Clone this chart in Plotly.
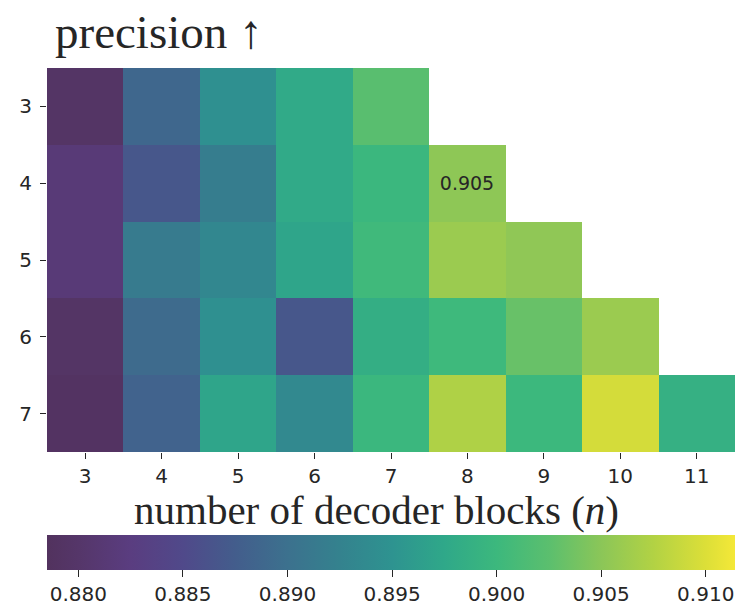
import plotly.graph_objects as go

# Data
blocks = [3, 4, 5, 6, 7, 8, 9, 10, 11]          # x: number of decoder blocks (n)
rows = [3, 4, 5, 6, 7]                            # y
precision = [
    [0.8795, 0.8888, 0.8945, 0.8978, 0.9023, None,   None,   None,   None],
    [0.8815, 0.8868, 0.8918, 0.8978, 0.8998, 0.9052, None,   None,   None],
    [0.8815, 0.8915, 0.8932, 0.8972, 0.9003, 0.9060, 0.9053, None,   None],
    [0.8795, 0.8893, 0.8945, 0.8868, 0.8985, 0.9002, 0.9032, 0.9060, None],
    [0.8790, 0.8882, 0.8972, 0.8935, 0.8998, 0.9073, 0.9000, 0.9095, 0.8988],
]
labels = [["" for _ in blocks] for _ in rows]
labels[1][5] = "0.905"
zmin, zmax = 0.8785, 0.9114
cbar_ticks = [0.880, 0.885, 0.890, 0.895, 0.900, 0.905, 0.910]

cs_vals = [0.8785, 0.880, 0.8825, 0.885, 0.8875, 0.890, 0.8925, 0.895, 0.8975,
           0.900, 0.9025, 0.905, 0.9075, 0.910, 0.9114]
cs_cols = ["#52325e", "#553669", "#5a3d80", "#50498a", "#435d8c", "#3c718e",
           "#34828e", "#2e9390", "#2fa889", "#3cb87d", "#5bbf6e", "#8bc658",
           "#b2d244", "#dcdf38", "#f4e838"]
colorscale = [[(v - zmin) / (zmax - zmin), c] for v, c in zip(cs_vals, cs_cols)]
colorscale[0][0] = 0.0
colorscale[-1][0] = 1.0

W, H = 735, 606
L, R, T, B = 47, 0, 68, 154
ph = H - T - B
pw = W - L - R
tick_font = dict(family="DejaVu Sans", size=20, color="#262626")

fig = go.Figure(go.Heatmap(
    x=blocks, y=rows, z=precision, text=labels, texttemplate="%{text}",
    textfont=dict(family="DejaVu Sans", size=19, color="#262626"),
    colorscale=colorscale, zmin=zmin, zmax=zmax, hoverongaps=False,
    colorbar=dict(
        orientation="h", x=0, xanchor="left", xref="paper", len=1, lenmode="fraction",
        y=-(535 - (T + ph)) / ph, yanchor="top", yref="paper",
        thickness=35, xpad=0, ypad=0, outlinewidth=0,
        tickvals=cbar_ticks, ticktext=[f"{t:.3f}" for t in cbar_ticks],
        ticks="outside", ticklen=7, tickwidth=1.2, tickcolor="#262626",
        tickfont=tick_font,
    ),
))

fig.update_layout(
    width=W, height=H, margin=dict(l=L, r=R, t=T, b=B),
    plot_bgcolor="white", paper_bgcolor="white",
    title=dict(text="precision ↑", x=55 / W, xanchor="left", xref="container",
               y=1 - 32 / H, yanchor="middle", yref="container",
               font=dict(family="Liberation Serif", size=47, color="#262626")),
    xaxis=dict(tickvals=blocks, ticktext=[str(b) for b in blocks], range=[2.5, 11.5],
               ticks="outside", ticklen=6, tickwidth=1.2, tickcolor="#262626",
               tickfont=tick_font,
               showgrid=False, zeroline=False, showline=False),
    yaxis=dict(tickvals=rows, ticktext=[str(r) for r in rows], range=[7.5, 2.5],
               ticks="outside", ticklen=6, tickwidth=1.2, tickcolor="#262626",
               tickfont=tick_font, ticklabelstandoff=4,
               showgrid=False, zeroline=False, showline=False),
    annotations=[dict(text="number of decoder blocks (<i>n</i>)", xref="paper", yref="paper",
                      x=(376 - L) / pw, y=-(510 - (T + ph)) / ph, xanchor="center",
                      yanchor="middle", showarrow=False,
                      font=dict(family="Liberation Serif", size=41, color="#262626"))],
)

fig.write_html("out.html")
